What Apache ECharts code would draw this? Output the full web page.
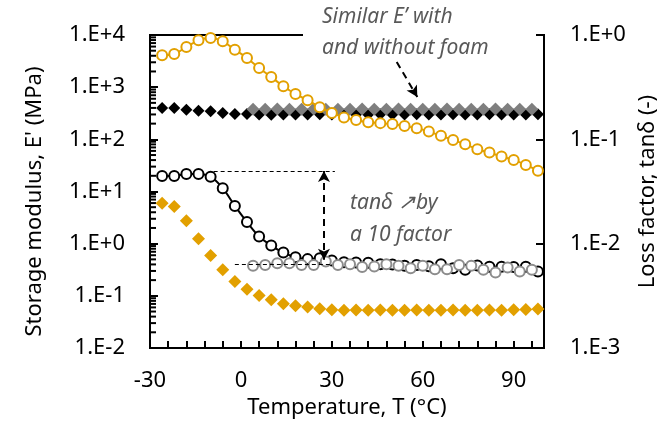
<!DOCTYPE html>
<html>
<head>
<meta charset="utf-8">
<title></title>
<style type="text/css">
  html, body { margin: 0; padding: 0; background: #fff; }
  #graphical { width: 658px; height: 424px; }
</style>
</head>
<body>
<div id="graphical"></div>
<script src="https://cdn.jsdelivr.net/npm/echarts@6/dist/echarts.min.js"></script>
<script type="text/javascript">
// temperatures (°C)
var tempA = [-26, -22, -18, -14, -10, -6, -2, 2, 6, 10, 14, 18, 22, 26, 30, 34, 38, 42, 46, 50, 54, 58, 62, 66, 70, 74, 78, 82, 86, 90, 94, 98];
var tempB = [4, 8, 12, 16, 20, 24, 28, 32, 36, 40, 44, 48, 52, 56, 60, 64, 68, 72, 76, 80, 84, 88, 92, 96];

// storage modulus E' (MPa), left axis
var blackE = [400, 400, 371, 355, 345, 321, 307, 307, 300, 295, 298, 300, 300, 302, 300, 303, 300, 300, 302, 300, 300, 302, 300, 300, 302, 300, 300, 302, 300, 300, 300, 302];
var greyE = [378, 378, 380, 378, 378, 380, 378, 378, 378, 380, 378, 378, 380, 378, 378, 378, 380, 378, 378, 378, 380, 378, 378, 378];
var orangeE = [5.97, 5.14, 2.74, 1.24, 0.592, 0.315, 0.188, 0.134, 0.101, 0.0838, 0.0703, 0.0643, 0.0608, 0.0564, 0.054, 0.053, 0.0535, 0.053, 0.0535, 0.053, 0.053, 0.0535, 0.053, 0.053, 0.0535, 0.053, 0.053, 0.0535, 0.053, 0.054, 0.055, 0.056];

// loss factor tan delta, right axis
var blackTan = [0.0446, 0.0446, 0.0466, 0.0466, 0.0439, 0.0340, 0.0230, 0.0161, 0.0117, 0.00959, 0.00822, 0.00743, 0.00711, 0.00726, 0.00689, 0.00665, 0.0066, 0.00655, 0.00636, 0.0063, 0.00613, 0.00626, 0.00609, 0.00636, 0.00582, 0.00561, 0.00617, 0.006, 0.006, 0.00596, 0.006, 0.0054];
var greyTan = [0.00613, 0.00626, 0.0065, 0.0065, 0.00626, 0.00626, 0.00674, 0.00626, 0.00636, 0.00596, 0.00604, 0.00636, 0.00613, 0.00582, 0.00613, 0.0057, 0.0057, 0.00626, 0.00613, 0.00561, 0.00529, 0.0059, 0.00541, 0.00561];
var orangeTan = [0.639, 0.658, 0.767, 0.889, 0.936, 0.870, 0.723, 0.602, 0.483, 0.396, 0.323, 0.272, 0.237, 0.203, 0.179, 0.162, 0.153, 0.146, 0.143, 0.140, 0.134, 0.128, 0.119, 0.108, 0.0987, 0.0898, 0.0804, 0.0746, 0.0683, 0.0635, 0.0569, 0.0501];

// x tick labels shown, log minor ticks of the left axis
var xLabels = [-30, 0, 30, 60, 90];
var minorMant = [2, 3, 4, 5, 6, 7, 8, 9];
var minorDecades = [0.01, 0.1, 1, 10, 100, 1000];

var ORANGE = '#E2A000';
var GREY_TXT = '#595959';
var FONT = 'Noto Sans';

function pairs(xs, ys) {
  var out = [];
  for (var i = 0; i < xs.length; i++) out.push([xs[i], ys[i]]);
  return out;
}
function sciLabel(v) {
  var e = Math.round(Math.log10(v));
  return '1.E' + (e >= 0 ? '+' : '') + e;
}

var minorVals = [];
minorDecades.forEach(function(d) {
  minorMant.forEach(function(m) { minorVals.push([-30, m * d]); });
});

var chart = echarts.init(document.getElementById('graphical'));
var dashThin = { color: '#000', width: 1, type: [4, 3] };
var dashBold = { color: '#000', width: 2, type: [7, 5] };
var tickStyle = { color: '#000', width: 2 };

var option = {
  animation: false,
  grid: { left: 150, right: 114, top: 35, bottom: 76, show: true, borderColor: '#000', borderWidth: 2,
          containLabel: false, outerBoundsMode: 'none' },
  xAxis: {
    type: 'value', min: -30, max: 100, interval: 6,
    name: 'Temperature, T (°C)', nameLocation: 'middle', nameGap: 40,
    nameTextStyle: { fontFamily: FONT, fontSize: 22, color: '#000' },
    axisLine: { show: true, onZero: false, lineStyle: { color: '#000', width: 2 } },
    axisTick: { show: true, inside: true, length: 7, lineStyle: tickStyle },
    splitLine: { show: false },
    axisLabel: {
      fontFamily: FONT, fontSize: 22, color: '#000', margin: 22,
      formatter: function(v) { return xLabels.indexOf(v) >= 0 ? String(v) : ''; }
    }
  },
  yAxis: [{
    type: 'log', min: 0.01, max: 10000,
    name: "Storage modulus, E' (MPa)", nameLocation: 'middle', nameGap: 104,
    nameTextStyle: { fontFamily: FONT, fontSize: 22, color: '#000', padding: [0, 20, 0, 0] },
    axisLine: { show: true, onZero: false, lineStyle: { color: '#000', width: 2 } },
    axisTick: { show: true, inside: true, length: 8, lineStyle: tickStyle },
    splitLine: { show: false },
    axisLabel: { fontFamily: FONT, fontSize: 22, color: '#000', margin: 25, formatter: sciLabel }
  }, {
    type: 'log', min: 0.001, max: 1, position: 'right',
    name: 'Loss factor, tanδ (-)', nameLocation: 'middle', nameGap: 82,
    nameTextStyle: { fontFamily: FONT, fontSize: 22, color: '#000' },
    axisLine: { show: true, onZero: false, lineStyle: { color: '#000', width: 2 } },
    axisTick: { show: true, inside: true, length: 8, lineStyle: tickStyle },
    splitLine: { show: false },
    axisLabel: { fontFamily: FONT, fontSize: 22, color: '#000', margin: 26, formatter: sciLabel }
  }],
  series: [{
    // minor ticks on left log axis
    type: 'custom', clip: false, data: minorVals,
    renderItem: function(params, api) {
      var p = api.coord([api.value(0), api.value(1)]);
      return { type: 'line', shape: { x1: p[0], y1: p[1], x2: p[0] + 6, y2: p[1] },
               style: { stroke: '#000', lineWidth: 2 } };
    }
  }, {
    name: 'E black', type: 'scatter', yAxisIndex: 0, symbol: 'diamond', symbolSize: 12,
    itemStyle: { color: '#000', opacity: 1 },
    data: pairs(tempA, blackE),
    markLine: {
      silent: true, symbol: ['none', 'none'], label: { show: false },
      data: [
        [{ coord: [-9, 24.8], lineStyle: dashThin }, { coord: [31, 24.8] }],
        [{ coord: [-2, 0.405], lineStyle: dashThin }, { coord: [30, 0.405] }],
        [{ coord: [27.4, 24.8], symbol: 'arrow', symbolSize: [9, 11], lineStyle: dashBold },
         { coord: [27.4, 0.49], symbol: 'arrow', symbolSize: [9, 11] }],
        [{ coord: [51.4, 3043], symbol: 'none', lineStyle: dashBold },
         { coord: [58.2, 649], symbol: 'arrow', symbolSize: [9, 11] }]
      ]
    }
  }, {
    name: 'E grey', type: 'scatter', yAxisIndex: 0, symbol: 'diamond', symbolSize: 13,
    itemStyle: { color: '#7F7F7F', opacity: 1 },
    data: pairs(tempB, greyE)
  }, {
    name: 'E orange', type: 'scatter', yAxisIndex: 0, symbol: 'diamond', symbolSize: 13,
    itemStyle: { color: ORANGE, opacity: 1 },
    data: pairs(tempA, orangeE)
  }, {
    name: 'tan black', type: 'line', yAxisIndex: 1, smooth: 0.3,
    symbol: 'circle', symbolSize: 10,
    lineStyle: { color: '#000', width: 2 },
    itemStyle: { color: '#fff', borderColor: '#000', borderWidth: 2 },
    data: pairs(tempA, blackTan)
  }, {
    name: 'tan grey', type: 'line', yAxisIndex: 1, smooth: 0.3,
    symbol: 'circle', symbolSize: 10,
    lineStyle: { color: '#808080', width: 2 },
    itemStyle: { color: '#fff', borderColor: '#8C8C8C', borderWidth: 2 },
    data: pairs(tempB, greyTan)
  }, {
    name: 'tan orange', type: 'line', yAxisIndex: 1, smooth: 0.3,
    symbol: 'circle', symbolSize: 10,
    lineStyle: { color: ORANGE, width: 2 },
    itemStyle: { color: '#fff', borderColor: ORANGE, borderWidth: 2 },
    data: pairs(tempA, orangeTan)
  }],
  graphic: [{
    type: 'rect', z: 100, shape: { x: 303, y: 28, width: 233, height: 14 },
    style: { fill: '#fff' }
  }, {
    type: 'text', z: 101, left: 322, top: 2,
    style: { text: 'Similar E’ with\nand without foam', fill: GREY_TXT, fontFamily: FONT,
             fontSize: 21, fontStyle: 'italic', lineHeight: 31 }
  }, {
    type: 'text', z: 101, left: 350, top: 187,
    style: { text: 'tanδ ↗by\na 10 factor', fill: GREY_TXT, fontFamily: FONT,
             fontSize: 21, fontStyle: 'italic', lineHeight: 32 }
  }]
};
chart.setOption(option);
window.onresize = function() { chart.resize(); };
</script>
</body>
</html>
